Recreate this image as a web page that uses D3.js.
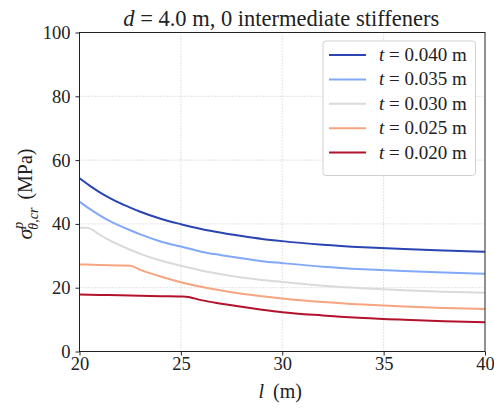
<!DOCTYPE html>
<html><head><meta charset="utf-8">
<script src="https://cdn.jsdelivr.net/npm/d3@7"></script>
<style>body{margin:0;background:#fff}svg{display:block}</style>
</head><body><svg id="c" width="494" height="410"></svg>
<script>
const thicknesses = ["0.040", "0.035", "0.030", "0.025", "0.020"];
const colors = ["#2a44b2", "#82a8f7", "#dadada", "#f7a47f", "#b3122c"];
const lBlue = [20,20.5,21,21.5,22,22.5,23,24,25,26,27,28,29,30,32,34,36,38,40];
const sBlue = [54.3,52.0,49.9,48.1,46.5,45.1,43.8,41.6,39.9,38.4,37.2,36.2,35.3,34.6,33.5,32.7,32.1,31.65,31.3];
const lLight = [20,20.5,21,21.5,22,22.5,23,24,25,26,27,28,29,30,32,34,36,38,40];
const sLight = [47.0,44.7,42.7,40.9,39.4,38.0,36.7,34.5,32.9,31.3,30.2,29.2,28.3,27.7,26.6,25.8,25.2,24.75,24.4];
const lGray = [20,20.3,20.5,21,21.5,22,22.5,23,24,25,26,27,28,29,30,32,34,36,38,40];
const sGray = [38.8,38.8,38.6,36.6,34.8,33.3,31.9,30.6,28.5,26.9,25.4,24.2,23.2,22.4,21.8,20.6,19.8,19.2,18.75,18.4];
const lOrange = [20,21,22,22.5,23,24,25,26,27,28,29,30,32,34,36,38,40];
const sOrange = [27.3,27.1,26.95,26.85,25.6,23.5,21.7,20.3,19.1,18.1,17.3,16.6,15.5,14.7,14.1,13.65,13.3];
const lRed = [20,21,22,23,24,25,25.25,26,27,28,29,30,32,34,36,38,40];
const sRed = [17.9,17.75,17.6,17.5,17.35,17.25,17.2,16.1,15.0,14.0,13.1,12.3,11.3,10.5,9.95,9.5,9.15];
const xTicks = [20,25,30,35,40];
const yTicks = [0,20,40,60,80,100];

const SERIF = "'Liberation Serif', 'Times New Roman', serif";
const series = [[lBlue,sBlue],[lLight,sLight],[lGray,sGray],[lOrange,sOrange],[lRed,sRed]];
const svg = d3.select("#c");
const m = {l:79.5, r:485, t:32.5, b:351.5};
const x = d3.scaleLinear().domain([20,40]).range([m.l,m.r]);
const y = d3.scaleLinear().domain([0,100]).range([m.b,m.t]);

// grid
const g = svg.append("g");
g.selectAll("line.gx").data(xTicks.slice(1,-1)).join("line")
 .attr("x1",d=>x(d)).attr("x2",d=>x(d)).attr("y1",m.t).attr("y2",m.b)
 .attr("stroke","#b8b8b8").attr("stroke-width",0.8).attr("stroke-dasharray","1,2");
g.selectAll("line.gy").data(yTicks.slice(1,-1)).join("line")
 .attr("y1",d=>y(d)).attr("y2",d=>y(d)).attr("x1",m.l).attr("x2",m.r)
 .attr("stroke","#b8b8b8").attr("stroke-width",0.8).attr("stroke-dasharray","1,2");

// lines
const line = d3.line().curve(d3.curveMonotoneX);
series.forEach((s,i)=>{
  const pts = s[0].map((l,j)=>[x(l), y(s[1][j])]);
  svg.append("path").attr("d",line(pts)).attr("fill","none")
   .attr("stroke",colors[i]).attr("stroke-width",2);
});

// axes
const xa = svg.append("g").attr("transform",`translate(0,${m.b})`)
 .call(d3.axisBottom(x).tickValues(xTicks).tickSize(4).tickPadding(1).tickFormat(d3.format("d")));
const ya = svg.append("g").attr("transform",`translate(${m.l},0)`)
 .call(d3.axisLeft(y).tickValues(yTicks).tickSize(4).tickPadding(5).tickFormat(d3.format("d")));
[xa,ya].forEach(a=>{
  a.attr("font-family",null).attr("font-size",null);
  a.select(".domain").remove();
  a.selectAll("line").attr("stroke","#222").attr("stroke-width",1);
  a.selectAll("text").style("font-family",SERIF).style("font-size","18.5px").attr("fill","#222");
});
svg.append("rect").attr("x",m.l).attr("y",m.t).attr("width",m.r-m.l).attr("height",m.b-m.t)
 .attr("fill","none").attr("stroke","#222").attr("stroke-width",1);

function T(sel){ return sel.style("font-family",SERIF).attr("fill","#222"); }

// title
const title = T(svg.append("text")).attr("x",(m.l+m.r)/2-1).attr("y",26).attr("text-anchor","middle").style("font-size","22.5px");
title.append("tspan").attr("font-style","italic").text("d");
title.append("tspan").text(" = 4.0 m, 0 intermediate stiffeners");

// x label
const xl = T(svg.append("text")).attr("x",(m.l+m.r)/2-2).attr("y",398).attr("text-anchor","middle").style("font-size","20px");
xl.append("tspan").attr("font-style","italic").text("l");
xl.append("tspan").attr("dx",4).text(" (m)");

// y label
const yl = T(svg.append("text")).attr("transform",`translate(32,${(m.t+m.b)/2+2}) rotate(-90)`).attr("text-anchor","middle").style("font-size","20px");
yl.append("tspan").attr("font-style","italic").style("font-size","22px").text("σ");
yl.append("tspan").attr("font-style","italic").style("font-size","14px").attr("dy",-9).text("p");
yl.append("tspan").attr("font-style","italic").style("font-size","14px").attr("dx",-8).attr("dy",15).text("θ,cr");
yl.append("tspan").attr("dy",-6).attr("dx",3).text(" (MPa)");

// legend
const lg = svg.append("g");
lg.append("rect").attr("x",323).attr("y",41).attr("width",152.5).attr("height",134.5).attr("rx",3)
 .attr("fill","#fff").attr("fill-opacity",0.85).attr("stroke","#d0d0d0").attr("stroke-width",1);
thicknesses.forEach((t,i)=>{
  const yy = 55 + i*24.4;
  lg.append("line").attr("x1",329).attr("x2",366).attr("y1",yy).attr("y2",yy).attr("stroke",colors[i]).attr("stroke-width",2);
  const tx = T(lg.append("text")).attr("x",379).attr("y",yy+6).style("font-size","19px");
  tx.append("tspan").attr("font-style","italic").text("t");
  tx.append("tspan").text(` = ${t} m`);
});
</script></body></html>
